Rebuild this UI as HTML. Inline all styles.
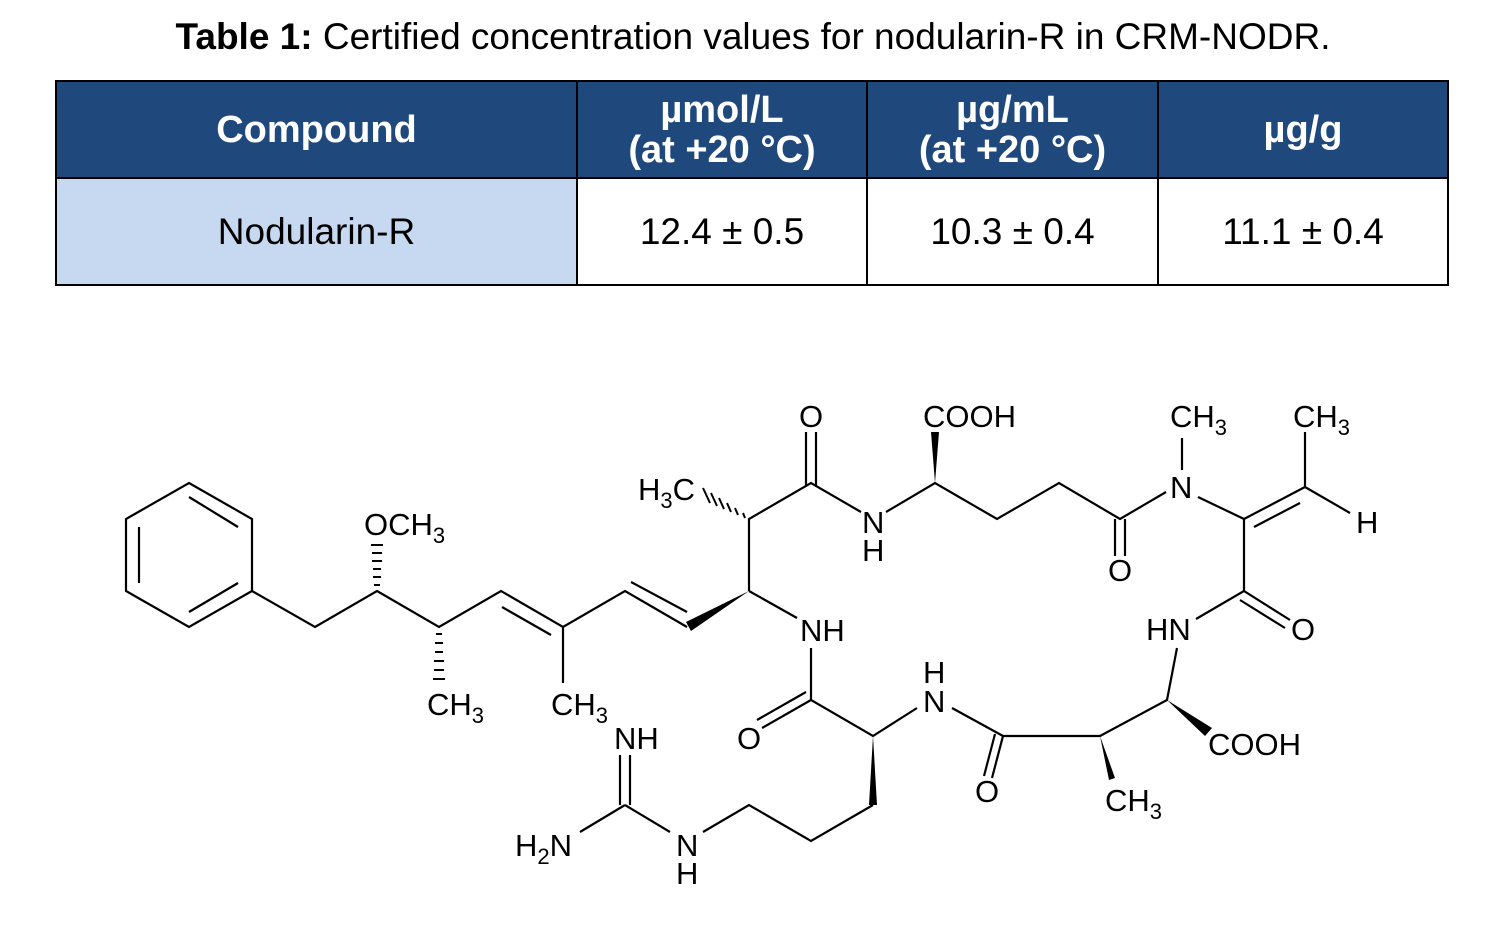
<!DOCTYPE html>
<html><head><meta charset="utf-8"><style>
body{margin:0;width:1506px;height:932px;background:#fff;position:relative;overflow:hidden;font-family:"Liberation Sans",Arial,sans-serif}
.t{position:absolute;top:16px;left:0;width:1506px;text-align:center;font-size:37px;color:#000;white-space:nowrap}
table{position:absolute;left:55px;top:80px;border-collapse:collapse;width:1394px}
td{border:2px solid #000;text-align:center;font-size:37px;padding:0}
.h td{background:#1f497d;color:#fff;font-weight:bold;height:95px;line-height:40px;font-size:38px}
.r td{height:105px}
svg{position:absolute;left:0;top:0}
svg text{font-family:"Liberation Sans",Arial,sans-serif;font-size:31px}
</style></head><body>
<div class="t"><b>Table 1:</b> Certified concentration values for nodularin-R in CRM-NODR.</div>
<table>
<tr class="h"><td style="width:519px">Compound</td><td style="width:288px">µmol/L<br>(at +20 °C)</td><td style="width:289px">µg/mL<br>(at +20 °C)</td><td>µg/g</td></tr>
<tr class="r"><td style="background:#c6d9f0">Nodularin-R</td><td>12.4 ± 0.5</td><td>10.3 ± 0.4</td><td>11.1 ± 0.4</td></tr>
</table>
<svg width="1506" height="932" viewBox="0 0 1506 932">
<g stroke="#000" stroke-width="2.2" fill="none">
<polygon points="189,483 252,519 252,591 189,627 126,591 126,519"/>
<line x1="189" y1="497" x2="238" y2="527"/><line x1="139" y1="527" x2="139" y2="583"/><line x1="189" y1="612" x2="238" y2="583"/>
<polyline points="252,591 315,627 377,591 439,627 501,591 563,627 625,591 687,627"/>
<line x1="502" y1="607" x2="551" y2="635"/><line x1="631" y1="582" x2="687" y2="612"/>
<line x1="563" y1="627" x2="563" y2="683"/>
<polyline points="749,591 749,519 811,483 861,512"/>
<line x1="806" y1="432" x2="806" y2="486"/><line x1="816" y1="432" x2="816" y2="486"/>
<polyline points="886,512 935,483 997,519 1059,483 1120,519 1166,492"/>
<line x1="1115" y1="519" x2="1115" y2="556"/><line x1="1125" y1="519" x2="1125" y2="556"/>
<line x1="1182" y1="438" x2="1182" y2="470"/>
<polyline points="1198,497 1244,519 1244,591 1196,619"/>
<line x1="1244" y1="519" x2="1305" y2="487"/><line x1="1254" y1="527" x2="1300" y2="503"/>
<line x1="1305" y1="487" x2="1305" y2="432"/><line x1="1305" y1="487" x2="1350" y2="513"/>
<line x1="1244" y1="591" x2="1290" y2="620"/><line x1="1240" y1="600" x2="1285" y2="628"/>
<polyline points="1177,648 1167,700 1100,736 1003,736 952,708"/>
<line x1="1003" y1="736" x2="992" y2="778"/><line x1="995" y1="734" x2="984" y2="776"/>
<polyline points="917,708 873,736 811,700 811,648"/>
<line x1="811" y1="700" x2="762" y2="728"/><line x1="806" y1="692" x2="757" y2="720"/>
<line x1="797" y1="618" x2="749" y2="591"/>
<polyline points="873,805 811,841 749,805 703,832"/>
<line x1="670" y1="832" x2="625" y2="805"/>
<line x1="625" y1="805" x2="580" y2="832"/>
<line x1="620" y1="805" x2="620" y2="755"/><line x1="630" y1="805" x2="630" y2="755"/>
</g>
<g fill="#000">
<polygon points="749,591 691,631 686,622"/>
<polygon points="935,483 931,432 939,432"/>
<polygon points="1167,700 1212,728 1205,736"/>
<polygon points="1100,736 1109,780 1115,778"/>
<polygon points="873,736 869,805 877,805"/>
</g>
<g stroke="#000" stroke-width="2">
<line x1="374" y1="585" x2="380" y2="585"/><line x1="373" y1="577" x2="381" y2="577"/><line x1="373" y1="569" x2="381" y2="569"/><line x1="372" y1="561" x2="382" y2="561"/><line x1="372" y1="553" x2="382" y2="553"/><line x1="371" y1="545" x2="383" y2="545"/>
<line x1="436" y1="634" x2="442" y2="634"/><line x1="435" y1="643" x2="443" y2="643"/><line x1="435" y1="652" x2="443" y2="652"/><line x1="434" y1="661" x2="444" y2="661"/><line x1="434" y1="670" x2="444" y2="670"/><line x1="433" y1="679" x2="445" y2="679"/>
<line x1="743" y1="513" x2="745" y2="518"/><line x1="735" y1="508" x2="738" y2="515"/><line x1="727" y1="503" x2="731" y2="512"/><line x1="719" y1="498" x2="724" y2="509"/><line x1="711" y1="493" x2="717" y2="506"/><line x1="703" y1="488" x2="710" y2="503"/>
</g>
<g>
<text x="364" y="535">OCH<tspan font-size="22" dy="8">3</tspan></text>
<text x="427" y="715">CH<tspan font-size="22" dy="8">3</tspan></text>
<text x="551" y="715">CH<tspan font-size="22" dy="8">3</tspan></text>
<text x="638" y="500">H<tspan font-size="22" dy="8">3</tspan><tspan dy="-8">C</tspan></text>
<text x="799" y="427">O</text>
<text x="862" y="533">N</text><text x="862" y="561">H</text>
<text x="923" y="427">COOH</text>
<text x="1108" y="581">O</text>
<text x="1170" y="427">CH<tspan font-size="22" dy="8">3</tspan></text>
<text x="1170" y="498">N</text>
<text x="1293" y="427">CH<tspan font-size="22" dy="8">3</tspan></text>
<text x="1356" y="533">H</text>
<text x="1291" y="640">O</text>
<text x="1146" y="640">HN</text>
<text x="1208" y="755">COOH</text>
<text x="1105" y="811">CH<tspan font-size="22" dy="8">3</tspan></text>
<text x="975" y="802">O</text>
<text x="923" y="683">H</text><text x="923" y="712">N</text>
<text x="737" y="749">O</text>
<text x="800" y="641">NH</text>
<text x="614" y="749">NH</text>
<text x="515" y="856">H<tspan font-size="22" dy="8">2</tspan><tspan dy="-8">N</tspan></text>
<text x="676" y="856">N</text><text x="676" y="884">H</text>
</g>
</svg>
</body></html>
